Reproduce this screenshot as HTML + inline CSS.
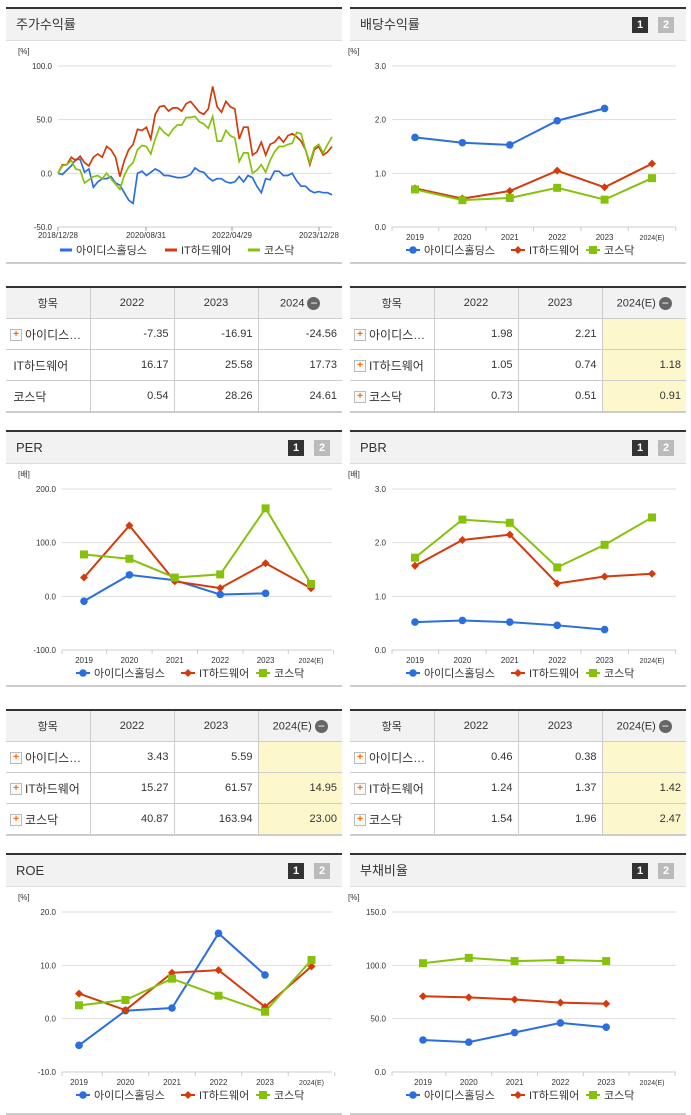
<!DOCTYPE html>
<html><head><meta charset="utf-8">
<style>
body{margin:0;width:691px;height:1115px;background:#fff;position:relative;overflow:hidden;font-family:"Liberation Sans","Noto Sans CJK KR",sans-serif;}
.panel{position:absolute;width:336px;border-top:2px solid #333;border-bottom:2px solid #ccc;}
.hd{height:31px;background:#f2f2f2;border-bottom:1px solid #ddd;font-size:13px;color:#333;line-height:31px;padding-left:10px;position:relative;}
.b1,.b2{position:absolute;top:8px;width:16px;height:16px;font-size:11px;font-weight:bold;color:#fff;text-align:center;line-height:16px;}
.b1{right:38px;background:#333;}.b2{right:12px;background:#bbb;}
table{position:absolute;width:336px;table-layout:fixed;border-collapse:collapse;font-size:11px;color:#333;border-top:2px solid #333;border-bottom:2px solid #ccc;}
td,th{border:1px solid #ccc;height:30px;padding:0 5px;overflow:hidden;white-space:nowrap;}
td:first-child,th:first-child{border-left:none;}td:last-child,th:last-child{border-right:none;}
th{background:#f2f2f2;font-weight:normal;text-align:center;}
td{text-align:right;}td:first-child{text-align:left;padding-left:4px;font-size:12px;}
.y{background:#fdf8cc;}
.pl{display:inline-block;width:10px;height:10px;border:1px solid #bbb;background:#fafafa;color:#f60;font-size:10px;line-height:10px;text-align:center;font-weight:bold;vertical-align:middle;margin-right:3px;}
.mi{display:inline-block;width:13px;height:13px;border-radius:7px;background:#666;color:#fff;line-height:12px;font-size:12px;text-align:center;vertical-align:middle;margin-left:3px;}
svg{position:absolute;left:0;top:0;}
</style></head><body>
<div class="panel" style="left:6px;top:7px;height:253px;"><div class="hd">주가수익률</div></div>
<div class="panel" style="left:350px;top:7px;height:253px;"><div class="hd">배당수익률<span class="b1">1</span><span class="b2">2</span></div></div>
<div class="panel" style="left:6px;top:430px;height:253px;"><div class="hd">PER<span class="b1">1</span><span class="b2">2</span></div></div>
<div class="panel" style="left:350px;top:430px;height:253px;"><div class="hd">PBR<span class="b1">1</span><span class="b2">2</span></div></div>
<div class="panel" style="left:6px;top:853px;height:258px;"><div class="hd">ROE<span class="b1">1</span><span class="b2">2</span></div></div>
<div class="panel" style="left:350px;top:853px;height:258px;"><div class="hd">부채비율<span class="b1">1</span><span class="b2">2</span></div></div>

<table style="left:6px;top:286px;">
<colgroup><col style="width:84px"><col style="width:84px"><col style="width:84px"><col style="width:84px"></colgroup>
<tr><th>항목</th><th>2022</th><th>2023</th><th>2024<span class="mi">−</span></th></tr>
<tr><td><span class="pl">+</span>아이디스…</td><td>-7.35</td><td>-16.91</td><td>-24.56</td></tr>
<tr><td>&nbsp;IT하드웨어</td><td>16.17</td><td>25.58</td><td>17.73</td></tr>
<tr><td>&nbsp;코스닥</td><td>0.54</td><td>28.26</td><td>24.61</td></tr></table>
<table style="left:350px;top:286px;">
<colgroup><col style="width:84px"><col style="width:84px"><col style="width:84px"><col style="width:84px"></colgroup>
<tr><th>항목</th><th>2022</th><th>2023</th><th>2024(E)<span class="mi">−</span></th></tr>
<tr><td><span class="pl">+</span>아이디스…</td><td>1.98</td><td>2.21</td><td class="y"></td></tr>
<tr><td><span class="pl">+</span>IT하드웨어</td><td>1.05</td><td>0.74</td><td class="y">1.18</td></tr>
<tr><td><span class="pl">+</span>코스닥</td><td>0.73</td><td>0.51</td><td class="y">0.91</td></tr></table>
<table style="left:6px;top:709px;">
<colgroup><col style="width:84px"><col style="width:84px"><col style="width:84px"><col style="width:84px"></colgroup>
<tr><th>항목</th><th>2022</th><th>2023</th><th>2024(E)<span class="mi">−</span></th></tr>
<tr><td><span class="pl">+</span>아이디스…</td><td>3.43</td><td>5.59</td><td class="y"></td></tr>
<tr><td><span class="pl">+</span>IT하드웨어</td><td>15.27</td><td>61.57</td><td class="y">14.95</td></tr>
<tr><td><span class="pl">+</span>코스닥</td><td>40.87</td><td>163.94</td><td class="y">23.00</td></tr></table>
<table style="left:350px;top:709px;">
<colgroup><col style="width:84px"><col style="width:84px"><col style="width:84px"><col style="width:84px"></colgroup>
<tr><th>항목</th><th>2022</th><th>2023</th><th>2024(E)<span class="mi">−</span></th></tr>
<tr><td><span class="pl">+</span>아이디스…</td><td>0.46</td><td>0.38</td><td class="y"></td></tr>
<tr><td><span class="pl">+</span>IT하드웨어</td><td>1.24</td><td>1.37</td><td class="y">1.42</td></tr>
<tr><td><span class="pl">+</span>코스닥</td><td>1.54</td><td>1.96</td><td class="y">2.47</td></tr></table>

<svg id="s" width="691" height="1115"></svg>
<script>
const years=["2019","2020","2021","2022","2023","2024(E)"];
const seriesNames=["아이디스홀딩스","IT하드웨어","코스닥"];
const stockXLabels=["2018/12/28","2020/08/31","2022/04/29","2023/12/28"];
const stockBlue=[0,-1,3,7,13,13,1,4,-13,-8,-5,-5,-3,-9,-11,-18,-25,-28,0,2,-2,1,4,2,-2,-2,-3,-4,-4,-3,-1,5,2,1,-4,-7,-5,-5,-8,-9,-8,-3,-8,-2,-4,-12,-18,-5,-6,2,2,-2,-2,0,-7,-12,-12,-16,-18,-17,-18,-18,-20];
const stockRed=[0,8,8,15,12,16,10,7,15,18,15,25,22,15,-3,12,22,27,41,40,43,32,55,62,63,58,61,61,58,65,67,62,57,55,60,81,62,57,67,62,60,32,43,43,17,20,29,17,27,29,34,29,35,37,34,30,22,8,22,25,17,20,25];
const stockGreen=[0,7,8,12,4,3,-9,-6,-3,-2,-5,0,-5,-10,-15,-2,6,10,22,26,25,18,32,43,38,35,41,45,45,52,52,53,48,46,42,53,30,30,40,35,33,11,19,19,0,3,8,1,12,20,25,25,27,28,38,37,22,10,24,27,19,27,34];
const divBlue=[1.67,1.57,1.53,1.98,2.21,null];
const divRed=[0.72,0.53,0.67,1.05,0.74,1.18];
const divGreen=[0.70,0.50,0.54,0.73,0.51,0.91];
const perBlue=[-9,40,30,3.43,5.59,null];
const perRed=[35,132,28,15.27,61.57,14.95];
const perGreen=[78,70,35,40.87,163.94,23];
const pbrBlue=[0.52,0.55,0.52,0.46,0.38,null];
const pbrRed=[1.57,2.05,2.15,1.24,1.37,1.42];
const pbrGreen=[1.72,2.43,2.37,1.54,1.96,2.47];
const roeBlue=[-5,1.5,2,16,8.2,null];
const roeRed=[4.7,1.6,8.6,9.1,2.2,9.8];
const roeGreen=[2.5,3.5,7.5,4.3,1.3,11];
const debtBlue=[30,28,37,46,42,null];
const debtRed=[71,70,68,65,64,null];
const debtGreen=[102,107,104,105,104,null];
const pctTicks=[-50,0,50,100];
const colors=["#2a6ee0","#d43a0a","#86c20c"];
const S=document.getElementById('s');
const NS="http://www.w3.org/2000/svg";
function mk(t,a,txt){const e=document.createElementNS(NS,t);for(const k in a)e.setAttribute(k,a[k]);if(txt!=null)e.textContent=txt;S.appendChild(e);return e;}
function axisY(min,max,top,bot){return v=>bot-(v-min)/(max-min)*(bot-top);}
function grid(ax,right,top,bot,min,max,ticks,dec,unitX,unit){
  const y=axisY(min,max,top,bot);
  ticks.forEach(t=>{const l=mk('line',{x1:ax,x2:right,y1:y(t),y2:y(t),stroke:'#ddd','stroke-width':1});
  
  
  const tx=mk('text',{x:ax-6,y:y(t)+3,'font-size':8,'text-anchor':'end',fill:'#333'},t.toFixed(dec));
  
  });
  const u=mk('text',{x:unitX,y:top-12,'font-size':8,fill:'#333'},unit);
  
  
  mk('line',{x1:ax,x2:right,y1:bot,y2:bot,stroke:'#ccc'});
  return y;
}
function legend(x,y){
  const offs=[0,105,188];
  seriesNames.forEach((n,i)=>{const g=mk('g',{});
  
  
  const l=mk('line',{x1:x+offs[i],x2:x+offs[i]+12,y1:y-4,y2:y-4,stroke:colors[i],'stroke-width':3});g.appendChild(l);
  const t=mk('text',{x:x+offs[i]+16,y:y,'font-size':11,fill:'#333'},n);g.appendChild(t);});
}
function legendM(x,y){
  const offs=[0,105,180];
  seriesNames.forEach((n,i)=>{const g=mk('g',{});
  
  
  g.appendChild(mk('line',{x1:x+offs[i],x2:x+offs[i]+14,y1:y-4,y2:y-4,stroke:colors[i],'stroke-width':2}));
  marker(g,i,x+offs[i]+7,y-4);
  g.appendChild(mk('text',{x:x+offs[i]+18,y:y,'font-size':11,fill:'#333'},n));});
}
function marker(g,i,x,y){
  let m;
  if(i==0)m=mk('circle',{cx:x,cy:y,r:3.8,fill:colors[0]});
  else if(i==1)m=mk('path',{d:`M${x} ${y-4}L${x+4} ${y}L${x} ${y+4}L${x-4} ${y}Z`,fill:colors[1]});
  else m=mk('rect',{x:x-4,y:y-4,width:8,height:8,fill:colors[2]});
  if(g)g.appendChild(m);return m;
}
function catChart(ax,x0,step,right,top,bot,min,max,ticks,dec,unit,sers,ly){
  const y=grid(ax,right,top,bot,min,max,ticks,dec,ax-44,unit);
  const x=i=>x0+i*step;
  years.forEach((c,i)=>{mk('line',{x1:x(i)+step/2,x2:x(i)+step/2,y1:bot,y2:bot+4,stroke:'#ccc'});
  const t=mk('text',{x:x(i),y:bot+13,'font-size':i==5?7:8,'text-anchor':'middle',fill:'#333'},c);
  
  });
  mk('line',{x1:ax,x2:ax,y1:bot,y2:bot+4,stroke:'#ccc'});
  sers.forEach((d,si)=>{
    const pts=d.map((v,i)=>v==null?null:[x(i),y(v)]).filter(p=>p);
    const pl=mk('polyline',{points:pts.map(p=>p.join(',')).join(' '),fill:'none',stroke:colors[si],'stroke-width':2});
    
    
    pts.forEach(p=>{const m=marker(null,si,p[0],p[1]);
    
    });
  });
  legendM(ax+14,ly);
}
(function(){
  const ax=58,right=332,top=66,bot=227;
  const y=grid(ax,right,top,bot,-50,100,pctTicks,1,18,'[%]');
  const xs=[58,146,232,319];
  stockXLabels.forEach((l,i)=>{mk('line',{x1:xs[i],x2:xs[i],y1:bot,y2:bot+4,stroke:'#999'});
  const t=mk('text',{x:xs[i],y:bot+11,'font-size':8,'text-anchor':'middle',fill:'#333'},l);
  
  });
  [stockBlue,stockRed,stockGreen].forEach((d,si)=>{
    const n=d.length-1;
    const pts=d.map((v,i)=>(ax+i/n*(right-ax)).toFixed(1)+','+y(v).toFixed(1)).join(' ');
    const pl=mk('polyline',{points:pts,fill:'none',stroke:colors[si],'stroke-width':1.7});
    
    
  });
  legend(60,254);
})();
catChart(392,415,47.4,676,66,227,0,3,[0,1,2,3],1,'[%]',[divBlue,divRed,divGreen],254);
catChart(62,84,45.4,332,489,650,-100,200,[-100,0,100,200],1,'[배]',[perBlue,perRed,perGreen],677);
catChart(392,415,47.4,676,489,650,0,3,[0,1,2,3],1,'[배]',[pbrBlue,pbrRed,pbrGreen],677);
catChart(62,79,46.5,332,912,1072,-10,20,[-10,0,10,20],1,'[%]',[roeBlue,roeRed,roeGreen],1099);
catChart(392,423,45.8,676,912,1072,0,150,[0,50,100,150],1,'[%]',[debtBlue,debtRed,debtGreen],1099);
</script>
</body></html>
